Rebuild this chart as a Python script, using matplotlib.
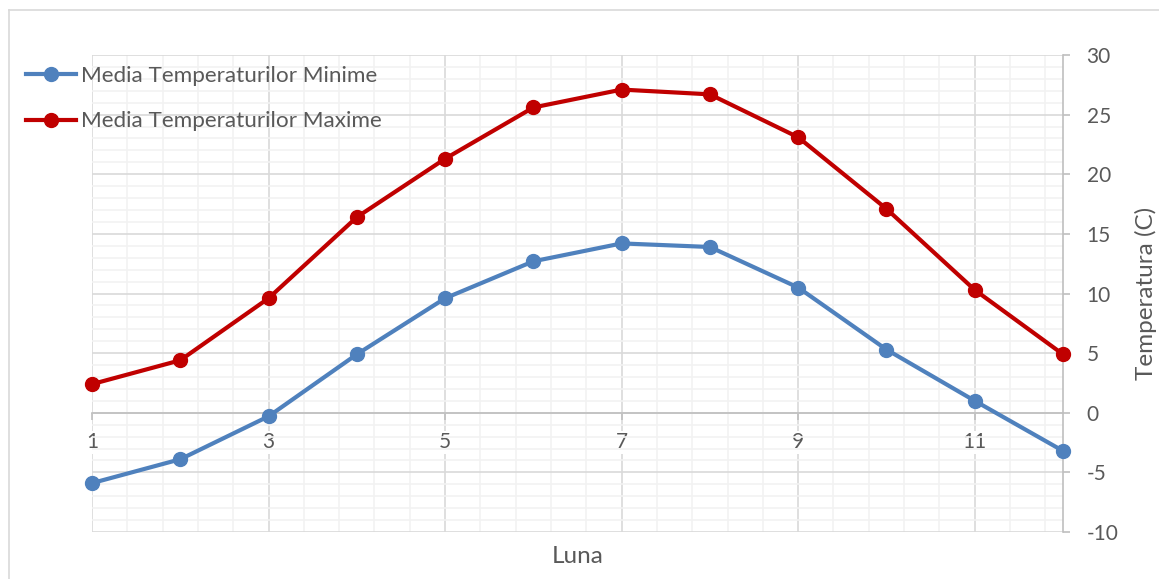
import numpy as np
import matplotlib
matplotlib.use('Agg')
import matplotlib.pyplot as plt
from matplotlib.ticker import FixedLocator, MultipleLocator
from matplotlib.lines import Line2D

# datele graficului
luni = [1, 2, 3, 4, 5, 6, 7, 8, 9, 10, 11, 12]
temp_min = [-5.9, -3.9, -0.3, 4.9, 9.6, 12.7, 14.2, 13.9, 10.5, 5.3, 1.0, -3.2]
temp_max = [2.4, 4.4, 9.6, 16.4, 21.3, 25.6, 27.1, 26.7, 23.1, 17.1, 10.3, 4.9]
nume_min = 'Media Temperaturilor Minime'
nume_max = 'Media Temperaturilor Maxime'

gri_text = '#595959'
plt.rcParams['font.family'] = ['Lato', 'DejaVu Sans']
plt.rcParams['axes.unicode_minus'] = False


def main():
    fig = plt.figure(figsize=(11.59, 5.79), dpi=100)
    ax = fig.add_axes([92 / 1159, 1 - 532 / 579, (1063 - 92) / 1159, (532 - 55) / 579])

    ax.plot(luni, temp_min, color='#4F81BD', linewidth=3, marker='o',
            markersize=10, label=nume_min, zorder=3, clip_on=False)
    ax.plot(luni, temp_max, color='#C00000', linewidth=3, marker='o',
            markersize=10, label=nume_max, zorder=3, clip_on=False)

    ax.set_xlim(1, 12)
    ax.set_ylim(-10, 30)

    # grila (liniile minore fara cele care cad peste cele majore)
    minore_x = [1 + 0.4 * k for k in range(28) if k % 5 != 0]
    ax.xaxis.set_major_locator(FixedLocator([1, 3, 5, 7, 9, 11]))
    ax.xaxis.set_minor_locator(FixedLocator(minore_x))
    ax.yaxis.set_major_locator(MultipleLocator(5))
    ax.yaxis.set_minor_locator(MultipleLocator(1))
    ax.grid(which='minor', color='#F2F2F2', linewidth=1.2, zorder=0)
    ax.grid(which='major', color='#D9D9D9', linewidth=1.2, zorder=1)
    ax.set_axisbelow(True)

    # axe
    for s in ['left', 'top']:
        ax.spines[s].set_visible(False)
    ax.spines['bottom'].set_position(('data', 0))
    ax.spines['bottom'].set_color('#BFBFBF')
    ax.spines['right'].set_color('#BFBFBF')
    ax.spines['bottom'].set_linewidth(1.2)
    ax.spines['right'].set_linewidth(1.2)
    ax.yaxis.tick_right()
    ax.yaxis.set_label_position('right')
    ax.tick_params(axis='y', which='major', direction='out', length=5,
                   color='#BFBFBF', width=1.2, labelcolor=gri_text,
                   labelsize=15, pad=12)
    ax.tick_params(axis='x', which='major', direction='out', length=5,
                   color='#BFBFBF', width=1.2, labelcolor=gri_text,
                   labelsize=15, pad=9)
    ax.tick_params(which='minor', length=0)
    # etichetele de pe axa x acopera grila
    for lbl in ax.get_xticklabels():
        lbl.set_bbox(dict(facecolor='white', edgecolor='none', pad=1))

    ax.set_xlabel('Luna', color=gri_text, fontsize=17.5)
    ax.xaxis.set_label_coords(0.5, -0.03)
    ax.set_ylabel('Temperatura (C)', color=gri_text, fontsize=17.5, rotation=90,
                  labelpad=12)

    fig.legend(loc='upper left', bbox_to_anchor=(6 / 1159, 1 - 46 / 579),
               frameon=False, fontsize=16.2, labelcolor=gri_text,
               handlelength=2.2, handletextpad=0.25, labelspacing=1.12)

    # chenarul figurii
    fig.add_artist(Line2D([8.5 / 1159, 8.5 / 1159], [0, 1 - 10 / 579],
                          color='#D9D9D9', linewidth=1.2))
    fig.add_artist(Line2D([8.5 / 1159, 1], [1 - 10 / 579, 1 - 10 / 579],
                          color='#D9D9D9', linewidth=1.2))

    fig.savefig('out.png', dpi=100)


if __name__ == '__main__':
    main()
